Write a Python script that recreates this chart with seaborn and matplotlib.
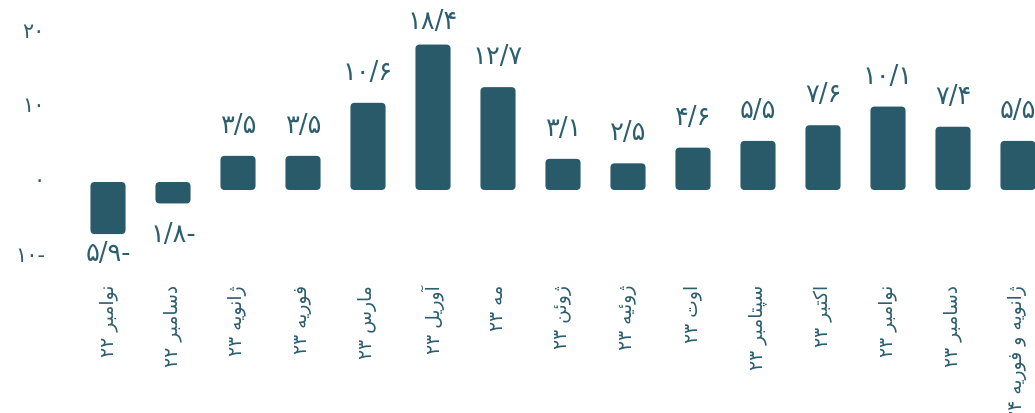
import matplotlib
matplotlib.use("Agg")
import matplotlib.pyplot as plt
from matplotlib.patches import FancyBboxPatch
from matplotlib.transforms import ScaledTranslation
import seaborn as sns

# ---- data -------------------------------------------------------------
categories = [
    "نوامبر ۲۲", "دسامبر ۲۲", "ژانویه ۲۳", "فوریه ۲۳", "مارس ۲۳",
    "آوریل ۲۳", "مه ۲۳", "ژوئن ۲۳", "ژوئیه ۲۳", "اوت ۲۳",
    "سپتامبر ۲۳", "اکتبر ۲۳", "نوامبر ۲۳", "دسامبر ۲۳", "ژانویه و فوریه ۲۴",
]
values = [-5.9, -1.8, 3.5, 3.5, 10.6, 18.4, 12.7, 3.1, 2.5, 4.6, 5.5, 7.6, 10.1, 7.4, 5.5]
y_ticks = [-10, 0, 10, 20]

BAR_COLOR = "#285a6a"
TEXT_COLOR = "#2b5e6f"

# ---- minimal Persian shaping (presentation forms) + visual ordering ----
# isolated, final, initial, medial  (None -> letter does not join forward)
FORMS = {
    "ا": ("\uFE8D", "\uFE8E", None, None),
    "آ": ("\uFE81", "\uFE82", None, None),
    "ب": ("\uFE8F", "\uFE90", "\uFE91", "\uFE92"),
    "پ": ("\uFB56", "\uFB57", "\uFB58", "\uFB59"),
    "ت": ("\uFE95", "\uFE96", "\uFE97", "\uFE98"),
    "د": ("\uFEA9", "\uFEAA", None, None),
    "ر": ("\uFEAD", "\uFEAE", None, None),
    "ز": ("\uFEAF", "\uFEB0", None, None),
    "ژ": ("\uFB8A", "\uFB8B", None, None),
    "س": ("\uFEB1", "\uFEB2", "\uFEB3", "\uFEB4"),
    "ف": ("\uFED1", "\uFED2", "\uFED3", "\uFED4"),
    "ک": ("\uFB8E", "\uFB8F", "\uFB90", "\uFB91"),
    "ل": ("\uFEDD", "\uFEDE", "\uFEDF", "\uFEE0"),
    "م": ("\uFEE1", "\uFEE2", "\uFEE3", "\uFEE4"),
    "ن": ("\uFEE5", "\uFEE6", "\uFEE7", "\uFEE8"),
    "ه": ("\uFEE9", "\uFEEA", "\uFEEB", "\uFEEC"),
    "و": ("\uFEED", "\uFEEE", None, None),
    "ی": ("\uFBFC", "\uFBFD", "\uFBFE", "\uFBFF"),
    "ئ": ("\uFE89", "\uFE8A", "\uFE8B", "\uFE8C"),
}
FA_DIGITS = str.maketrans("0123456789.", "۰۱۲۳۴۵۶۷۸۹/")


def shape_word(word):
    out = []
    for i, ch in enumerate(word):
        if ch not in FORMS:
            out.append(ch)
            continue
        prev = word[i - 1] if i > 0 else None
        nxt = word[i + 1] if i < len(word) - 1 else None
        join_prev = prev in FORMS and FORMS[prev][2] is not None
        join_next = nxt in FORMS and FORMS[ch][2] is not None
        iso, fin, ini, med = FORMS[ch]
        if join_prev and join_next:
            out.append(med)
        elif join_prev:
            out.append(fin)
        elif join_next:
            out.append(ini)
        else:
            out.append(iso)
    return "".join(out)


def rtl(text):
    parts = []
    for tok in text.split(" "):
        if all(c in "۰۱۲۳۴۵۶۷۸۹/" for c in tok):
            parts.append(tok)
        else:
            parts.append(shape_word(tok)[::-1])
    return " ".join(parts[::-1])


def fa_number(v, fmt="{:.1f}"):
    s = fmt.format(abs(v)).translate(FA_DIGITS)
    return s + "-" if v < 0 else s


# ---- figure -----------------------------------------------------------
W, H, DPI = 1035, 414, 100
sns.set_theme(style="white")
plt.rcParams["font.family"] = ["DejaVu Sans"]

fig = plt.figure(figsize=(W / DPI, H / DPI), dpi=DPI)
ZERO_PX, PX_PER_UNIT, STEP_PX = 183, 7.47, 65.0
Y_MIN, Y_MAX = -10, 22
bottom_px = ZERO_PX - Y_MIN * PX_PER_UNIT
top_px = ZERO_PX - Y_MAX * PX_PER_UNIT
ax = fig.add_axes([75.5 / W, 1 - bottom_px / H, 975 / W, (bottom_px - top_px) / H])

sns.barplot(x=list(range(len(values))), y=values, color=BAR_COLOR,
            saturation=1, width=0.54, ax=ax)

ax.set_xlim(-0.5, len(values) - 0.5)
ax.set_ylim(Y_MIN, Y_MAX)

# rounded bars; each column is drawn a few pixels longer at its lower edge
ext = 8 / PX_PER_UNIT
aspect = STEP_PX / PX_PER_UNIT
for p, v in zip(list(ax.patches), values):
    x0, w = p.get_x(), p.get_width()
    lo, hi = min(0, v) - ext, max(0, v)
    rb = FancyBboxPatch((x0, lo), w, hi - lo,
                        boxstyle="round,pad=0,rounding_size=0.065",
                        mutation_aspect=aspect, facecolor=BAR_COLOR,
                        edgecolor="none")
    p.remove()
    ax.add_patch(rb)

# value labels: above positive bars (kept inside the figure),
# below negative bars (kept clear of the zero line)
PT = 72 / DPI
for i, v in enumerate(values):
    if v >= 0:
        bar_top = ZERO_PX - v * PX_PER_UNIT
        centre = max(bar_top - 31, 22)
        off = -(centre - bar_top)
        ax.annotate(fa_number(v), (i, v), xytext=(0, off * PT),
                    textcoords="offset points", ha="center", va="center",
                    fontsize=18.5, color=TEXT_COLOR, annotation_clip=False)
    else:
        bar_bot = ZERO_PX - v * PX_PER_UNIT + 8
        centre = max(bar_bot + 19, ZERO_PX + 52)
        off = -(centre - (ZERO_PX - v * PX_PER_UNIT))
        ax.annotate(fa_number(v), (i, v), xytext=(0, off * PT),
                    textcoords="offset points", ha="center", va="center",
                    fontsize=18.5, color=TEXT_COLOR, annotation_clip=False)

ax.set_yticks(y_ticks)
ax.set_yticklabels([fa_number(t, "{:.0f}") for t in y_ticks],
                   fontsize=15, color=TEXT_COLOR)
ax.set_xticks(range(len(categories)))
ax.set_xticklabels([rtl(c) for c in categories], rotation=90,
                   ha="center", va="top", fontsize=13.5, color=TEXT_COLOR)
ax.tick_params(axis="x", length=0, pad=(285 - bottom_px) * PT)
ax.tick_params(axis="y", length=0, pad=(75.5 - 45) * PT)
lift = ScaledTranslation(0, 4 / DPI, fig.dpi_scale_trans)
for lbl in ax.get_yticklabels():
    lbl.set_horizontalalignment("right")
    lbl.set_transform(lbl.get_transform() + lift)

for s in ax.spines.values():
    s.set_visible(False)
ax.grid(False)
ax.set_facecolor("none")

fig.savefig("out.png", dpi=DPI, facecolor="white")
